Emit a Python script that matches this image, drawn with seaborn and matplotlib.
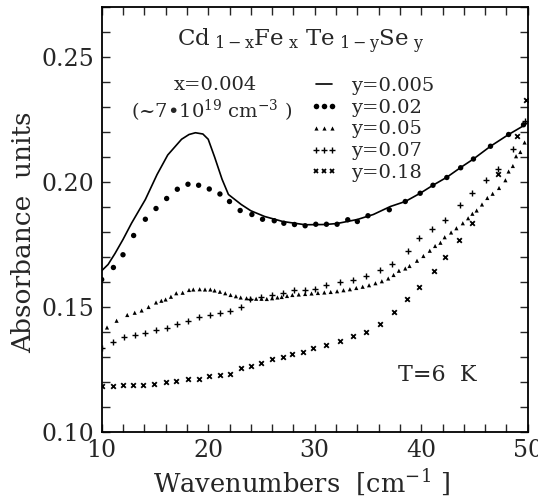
import matplotlib
matplotlib.use('Agg')
import matplotlib.pyplot as plt
import seaborn as sns
from matplotlib.lines import Line2D
from matplotlib.ticker import MultipleLocator, FormatStrFormatter

# y = 0.005 (solid curve)
solid_x = [10.0, 10.6, 11.25, 12.0, 12.8, 14.1, 15.2, 16.2, 17.5, 18.2, 18.8, 19.5,
           20.0, 20.6, 21.3, 21.9, 23.1, 24.0, 25.3, 27.0, 29.1, 31.0, 32.1, 34.0,
           35.5, 37.1, 38.5, 39.9, 41.1, 42.4, 43.7, 44.9, 46.5, 48.2, 49.6, 50.0]
solid_y = [0.1645, 0.1670, 0.1714, 0.1770, 0.1835, 0.1930, 0.2030, 0.2108, 0.2171,
           0.2190, 0.2197, 0.2192, 0.2171, 0.2100, 0.2011, 0.1950, 0.1910, 0.1885,
           0.1862, 0.1842, 0.1829, 0.1830, 0.1834, 0.1850, 0.1870, 0.1902, 0.1922,
           0.1955, 0.1987, 0.2019, 0.2058, 0.2092, 0.2143, 0.2190, 0.2225, 0.2238]

# y = 0.02 (dots)
dots_x = [10.0, 11.1, 12.0, 13.0, 14.1, 15.1, 16.1, 17.1, 18.1, 19.1, 20.1, 21.1,
          22.0, 23.0, 24.1, 25.1, 26.2, 27.1, 28.1, 29.1, 30.1, 31.1, 32.1, 33.1,
          34.0, 35.0, 37.0, 38.5, 39.9, 41.1, 42.4, 43.7, 44.9, 46.5, 48.2, 49.6]
dots_y = [0.1610, 0.1658, 0.1709, 0.1786, 0.1851, 0.1894, 0.1934, 0.1971, 0.1991,
          0.1987, 0.1972, 0.1952, 0.1922, 0.1886, 0.1870, 0.1851, 0.1845, 0.1835,
          0.1830, 0.1825, 0.1831, 0.1831, 0.1831, 0.1849, 0.1842, 0.1865, 0.1889,
          0.1922, 0.1955, 0.1987, 0.2018, 0.2057, 0.2092, 0.2143, 0.2190, 0.2229]

# y = 0.05 (triangles)
tri_x = [10.5, 11.4, 12.4, 13.1, 13.75, 14.4, 15.1, 15.6, 16.0, 16.5, 17.0, 17.6,
         18.2, 18.6, 19.2, 19.7, 20.2, 20.6, 21.1, 21.6, 22.1, 22.6, 23.05, 23.6,
         24.0, 24.5, 25.0, 25.5, 26.0, 26.5, 26.9, 27.4, 27.9, 28.5, 29.1, 29.7,
         30.3, 30.9, 31.5, 32.1, 32.7, 33.3, 33.9, 34.5, 35.1, 35.7, 36.3, 36.9,
         37.4, 37.9, 38.5, 38.9, 39.6, 40.2, 40.8, 41.3, 41.8, 42.2, 42.8, 43.3,
         43.9, 44.4, 44.8, 45.2, 45.7, 46.2, 46.7, 47.3, 47.9, 48.2, 48.6, 48.9,
         49.3, 49.7]
tri_y = [0.1418, 0.1445, 0.1468, 0.1477, 0.1486, 0.1500, 0.1518, 0.1525, 0.1530,
         0.1541, 0.1555, 0.1557, 0.1568, 0.1570, 0.1571, 0.1570, 0.1570, 0.1566,
         0.1561, 0.1555, 0.1548, 0.1543, 0.1538, 0.1535, 0.1533, 0.1533, 0.1533,
         0.1532, 0.1535, 0.1538, 0.1540, 0.1544, 0.1548, 0.1550, 0.1552, 0.1554,
         0.1556, 0.1558, 0.1560, 0.1563, 0.1567, 0.1571, 0.1576, 0.1581, 0.1587,
         0.1595, 0.1603, 0.1614, 0.1628, 0.1645, 0.1654, 0.1664, 0.1685, 0.1704,
         0.1725, 0.1744, 0.1757, 0.1779, 0.1798, 0.1815, 0.1835, 0.1855, 0.1873,
         0.1886, 0.1910, 0.1936, 0.1953, 0.1976, 0.2007, 0.2042, 0.2064, 0.2103,
         0.2120, 0.2158]

# y = 0.07 (plus)
plus_x = [10.05, 11.1, 12.1, 13.1, 14.1, 15.1, 16.1, 17.1, 18.1, 19.1, 20.2, 21.1,
          22.0, 23.05, 23.9, 25.0, 26.0, 27.05, 28.1, 29.1, 30.0, 31.1, 32.4, 33.6,
          34.8, 36.1, 37.3, 38.8, 39.8, 41.0, 42.2, 43.6, 44.8, 46.1, 47.2, 48.6, 49.7]
plus_y = [0.1336, 0.1360, 0.1380, 0.1388, 0.1398, 0.1409, 0.1418, 0.1432, 0.1445,
          0.1459, 0.1468, 0.1475, 0.1484, 0.1500, 0.1532, 0.1540, 0.1548, 0.1557,
          0.1568, 0.1570, 0.1572, 0.1588, 0.1600, 0.1610, 0.1625, 0.1650, 0.1674,
          0.1724, 0.1775, 0.1811, 0.1849, 0.1907, 0.1956, 0.2009, 0.2054, 0.2132, 0.2243]

# y = 0.18 (crosses)
cross_x = [10.05, 11.1, 12.0, 12.9, 13.9, 14.9, 16.0, 17.0, 18.1, 19.1, 20.1, 21.1,
           22.0, 23.05, 24.0, 25.0, 26.0, 27.0, 27.9, 28.9, 29.8, 31.1, 32.4, 33.6,
           34.8, 36.1, 37.4, 38.7, 39.8, 41.2, 42.2, 43.5, 44.8, 47.2, 49.0, 49.8]
cross_y = [0.1186, 0.1186, 0.1190, 0.1190, 0.1190, 0.1191, 0.1200, 0.1203, 0.1213,
           0.1213, 0.1223, 0.1227, 0.1231, 0.1254, 0.1265, 0.1277, 0.1291, 0.1302,
           0.1313, 0.1320, 0.1336, 0.1348, 0.1365, 0.1385, 0.1402, 0.1434, 0.1480,
           0.1534, 0.1581, 0.1645, 0.1702, 0.1767, 0.1835, 0.2030, 0.2186, 0.2330]

series_labels = ['y=0.005', 'y=0.02', 'y=0.05', 'y=0.07', 'y=0.18']

sns.set_style('ticks')
plt.rcParams['font.family'] = ['DejaVu Serif', 'DejaVu Sans']
plt.rcParams['mathtext.fontset'] = 'dejavuserif'

fig = plt.figure(figsize=(5.38, 5.0), dpi=100)
ax = fig.add_axes([0.189, 0.136, 0.792, 0.85])

sns.lineplot(x=solid_x, y=solid_y, ax=ax, color='black', lw=1.2,
             sort=False, estimator=None)
sns.scatterplot(x=dots_x, y=dots_y, ax=ax, marker='o', s=15,
                color='black', edgecolor='none')
sns.scatterplot(x=tri_x, y=tri_y, ax=ax, marker='^', s=9,
                color='black', edgecolor='none')
sns.scatterplot(x=plus_x, y=plus_y, ax=ax, marker='+', s=22,
                color='black', linewidth=1.0)
sns.scatterplot(x=cross_x, y=cross_y, ax=ax, marker='x', s=11,
                color='black', linewidth=1.3)

ax.set_xlim(10, 50)
ax.set_ylim(0.10, 0.27)
ax.xaxis.set_major_locator(MultipleLocator(10))
ax.xaxis.set_minor_locator(MultipleLocator(2))
ax.yaxis.set_major_locator(MultipleLocator(0.05))
ax.yaxis.set_minor_locator(MultipleLocator(0.01))
ax.yaxis.set_major_formatter(FormatStrFormatter('%.2f'))
ax.tick_params(which='both', direction='in', top=True, right=True,
               length=6, width=1.0, labelsize=17, pad=5)
for sp in ax.spines.values():
    sp.set_linewidth(1.3)
    sp.set_color('black')

ax.set_xlabel('Wavenumbers  [cm$^{-1}$ ]', fontsize=18.5, labelpad=1)
ax.set_ylabel('Absorbance  units', fontsize=19)
ax.xaxis.set_label_coords(0.47, -0.085)
ax.yaxis.set_label_coords(-0.155, 0.47)

# legend proxies
handles = [
    Line2D([], [], color='black', lw=1.2),
    Line2D([], [], color='black', ls='none', marker='o', ms=4.0, mew=0),
    Line2D([], [], color='black', ls='none', marker='^', ms=3.0, mew=0),
    Line2D([], [], color='black', ls='none', marker='+', ms=4.5, mew=1.0),
    Line2D([], [], color='black', ls='none', marker='x', ms=3.2, mew=1.3),
]
ax.legend(handles, series_labels, loc='upper left', bbox_to_anchor=(0.49, 0.836),
          frameon=False, fontsize=14, numpoints=3, handlelength=1.4,
          handletextpad=0.7, labelspacing=0.2, borderpad=0, borderaxespad=0)

ax.text(0.466, 0.918, r'Cd$_{\mathrm{\ 1-x}}$Fe$_{\mathrm{\ x}}$ Te$_{\mathrm{\ 1-y}}$Se$_{\mathrm{\ y}}$',
        transform=ax.transAxes, ha='center', va='center', fontsize=16.5)
ax.text(0.266, 0.816, 'x=0.004', transform=ax.transAxes,
        ha='center', va='center', fontsize=14)
ax.text(0.257, 0.755, '(~7•10$^{19}$ cm$^{-3}$ )', transform=ax.transAxes,
        ha='center', va='center', fontsize=14)
ax.text(0.787, 0.134, 'T=6  K', transform=ax.transAxes,
        ha='center', va='center', fontsize=16)

fig.savefig('out.png', dpi=100)
